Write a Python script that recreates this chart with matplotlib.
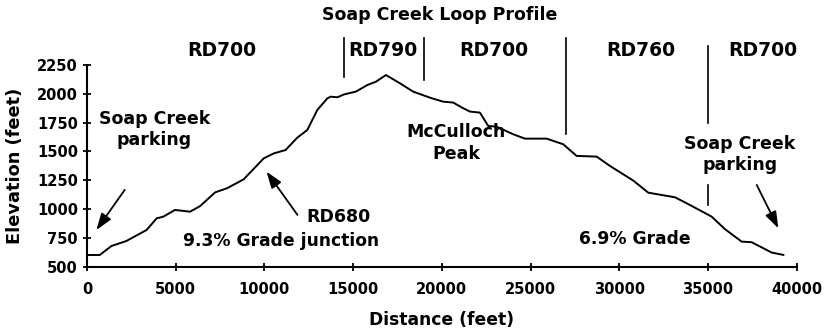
import matplotlib
matplotlib.use("Agg")
import matplotlib.pyplot as plt

# elevation profile along the loop
dist = [0, 717, 1377, 2226, 3358, 3925, 4302, 4962, 5811, 6377, 7226, 7887,
        8830, 9962, 10528, 11189, 11849, 12415, 12981, 13547, 13736, 14113,
        14491, 15151, 15811, 16283, 16849, 17632, 18382, 19419, 20074, 20638,
        21202, 21579, 22143, 22613, 23083, 24021, 24680, 25904, 26840, 27595,
        28723, 29473, 30787, 31633, 33138, 33984, 35206, 35958, 36898, 37462,
        38590, 39248]
elev = [601, 601, 679, 723, 818, 919, 934, 992, 977, 1026, 1145, 1180,
        1258, 1440, 1483, 1512, 1619, 1686, 1860, 1961, 1975, 1970,
        1995, 2019, 2077, 2105, 2163, 2092, 2019, 1962, 1932, 1924,
        1875, 1846, 1837, 1721, 1715, 1649, 1611, 1611, 1562, 1461,
        1455, 1374, 1247, 1142, 1102, 1035, 934, 825, 717, 712,
        622, 602]

# road segments along the top
road_names = ["RD700", "RD790", "RD700", "RD760", "RD700"]
road_x = [7600, 16700, 22900, 31200, 38100]
# segment dividers: x, bottom, top
dividers = [(14500, 2150, 2485), (19000, 2120, 2485), (27000, 1649, 2485),
            (35000, 1745, 2415), (35000, 1036, 1210)]

bold = dict(fontweight="bold", family="DejaVu Sans")

fig = plt.figure(figsize=(8.27, 3.30), dpi=100)
ax = fig.add_axes([0.1052, 0.192, 0.8582, 0.611])
ax.plot(dist, elev, color="black", lw=1.4)

ax.set_xlim(0, 40000)
ax.set_ylim(500, 2250)
ax.set_xticks(range(0, 40001, 5000))
ax.set_yticks(range(500, 2251, 250))
for s in ["top", "right"]:
    ax.spines[s].set_visible(False)
for s in ["left", "bottom"]:
    ax.spines[s].set_linewidth(1.5)
ax.tick_params(direction="inout", length=6, width=1.3, labelsize=10.5)
ax.tick_params(axis="x", pad=8)
for lab in ax.get_xticklabels() + ax.get_yticklabels():
    lab.set_fontweight("bold")

ax.set_xlabel("Distance (feet)", fontsize=12.3, va="center", **bold)
ax.set_ylabel("Elevation (feet)", fontsize=12.8, va="center", **bold)
ax.xaxis.set_label_coords(0.5, -0.264)
ax.yaxis.set_label_coords(-0.101, 0.5)
fig.text(0.532, 0.955, "Soap Creek Loop Profile", ha="center", va="center",
         fontsize=12.5, **bold)

for name, x in zip(road_names, road_x):
    ax.text(x, 2380, name, ha="center", va="center", fontsize=13.5,
            clip_on=False, **bold)
for x, y0, y1 in dividers:
    ax.plot([x, x], [y0, y1], color="black", lw=1.2, clip_on=False)

arrow = dict(arrowstyle="-|>,head_length=1.0,head_width=0.35", color="black",
             lw=1.3, shrinkA=0, shrinkB=0)
ax.text(3800, 1690, "Soap Creek\nparking", ha="center", va="center",
        fontsize=12.5, linespacing=1.25, **bold)
ax.annotate("", xy=(530, 818), xytext=(2125, 1166), arrowprops=arrow)
ax.text(14150, 934, "RD680", ha="center", va="center", fontsize=12.5, **bold)
ax.annotate("", xy=(10116, 1325), xytext=(11863, 949), arrowprops=arrow)
ax.text(10960, 723, "9.3% Grade junction", ha="center", va="center",
        fontsize=12.3, **bold)
ax.text(20800, 1575, "McCulloch\nPeak", ha="center", va="center",
        fontsize=12.5, linespacing=1.25, **bold)
ax.text(36800, 1472, "Soap Creek\nparking", ha="center", va="center",
        fontsize=12.5, linespacing=1.25, **bold)
ax.annotate("", xy=(38963, 833), xytext=(37745, 1209), arrowprops=arrow)
ax.text(30880, 740, "6.9% Grade", ha="center", va="center",
        fontsize=12.3, **bold)

fig.savefig("out.png", dpi=100)
